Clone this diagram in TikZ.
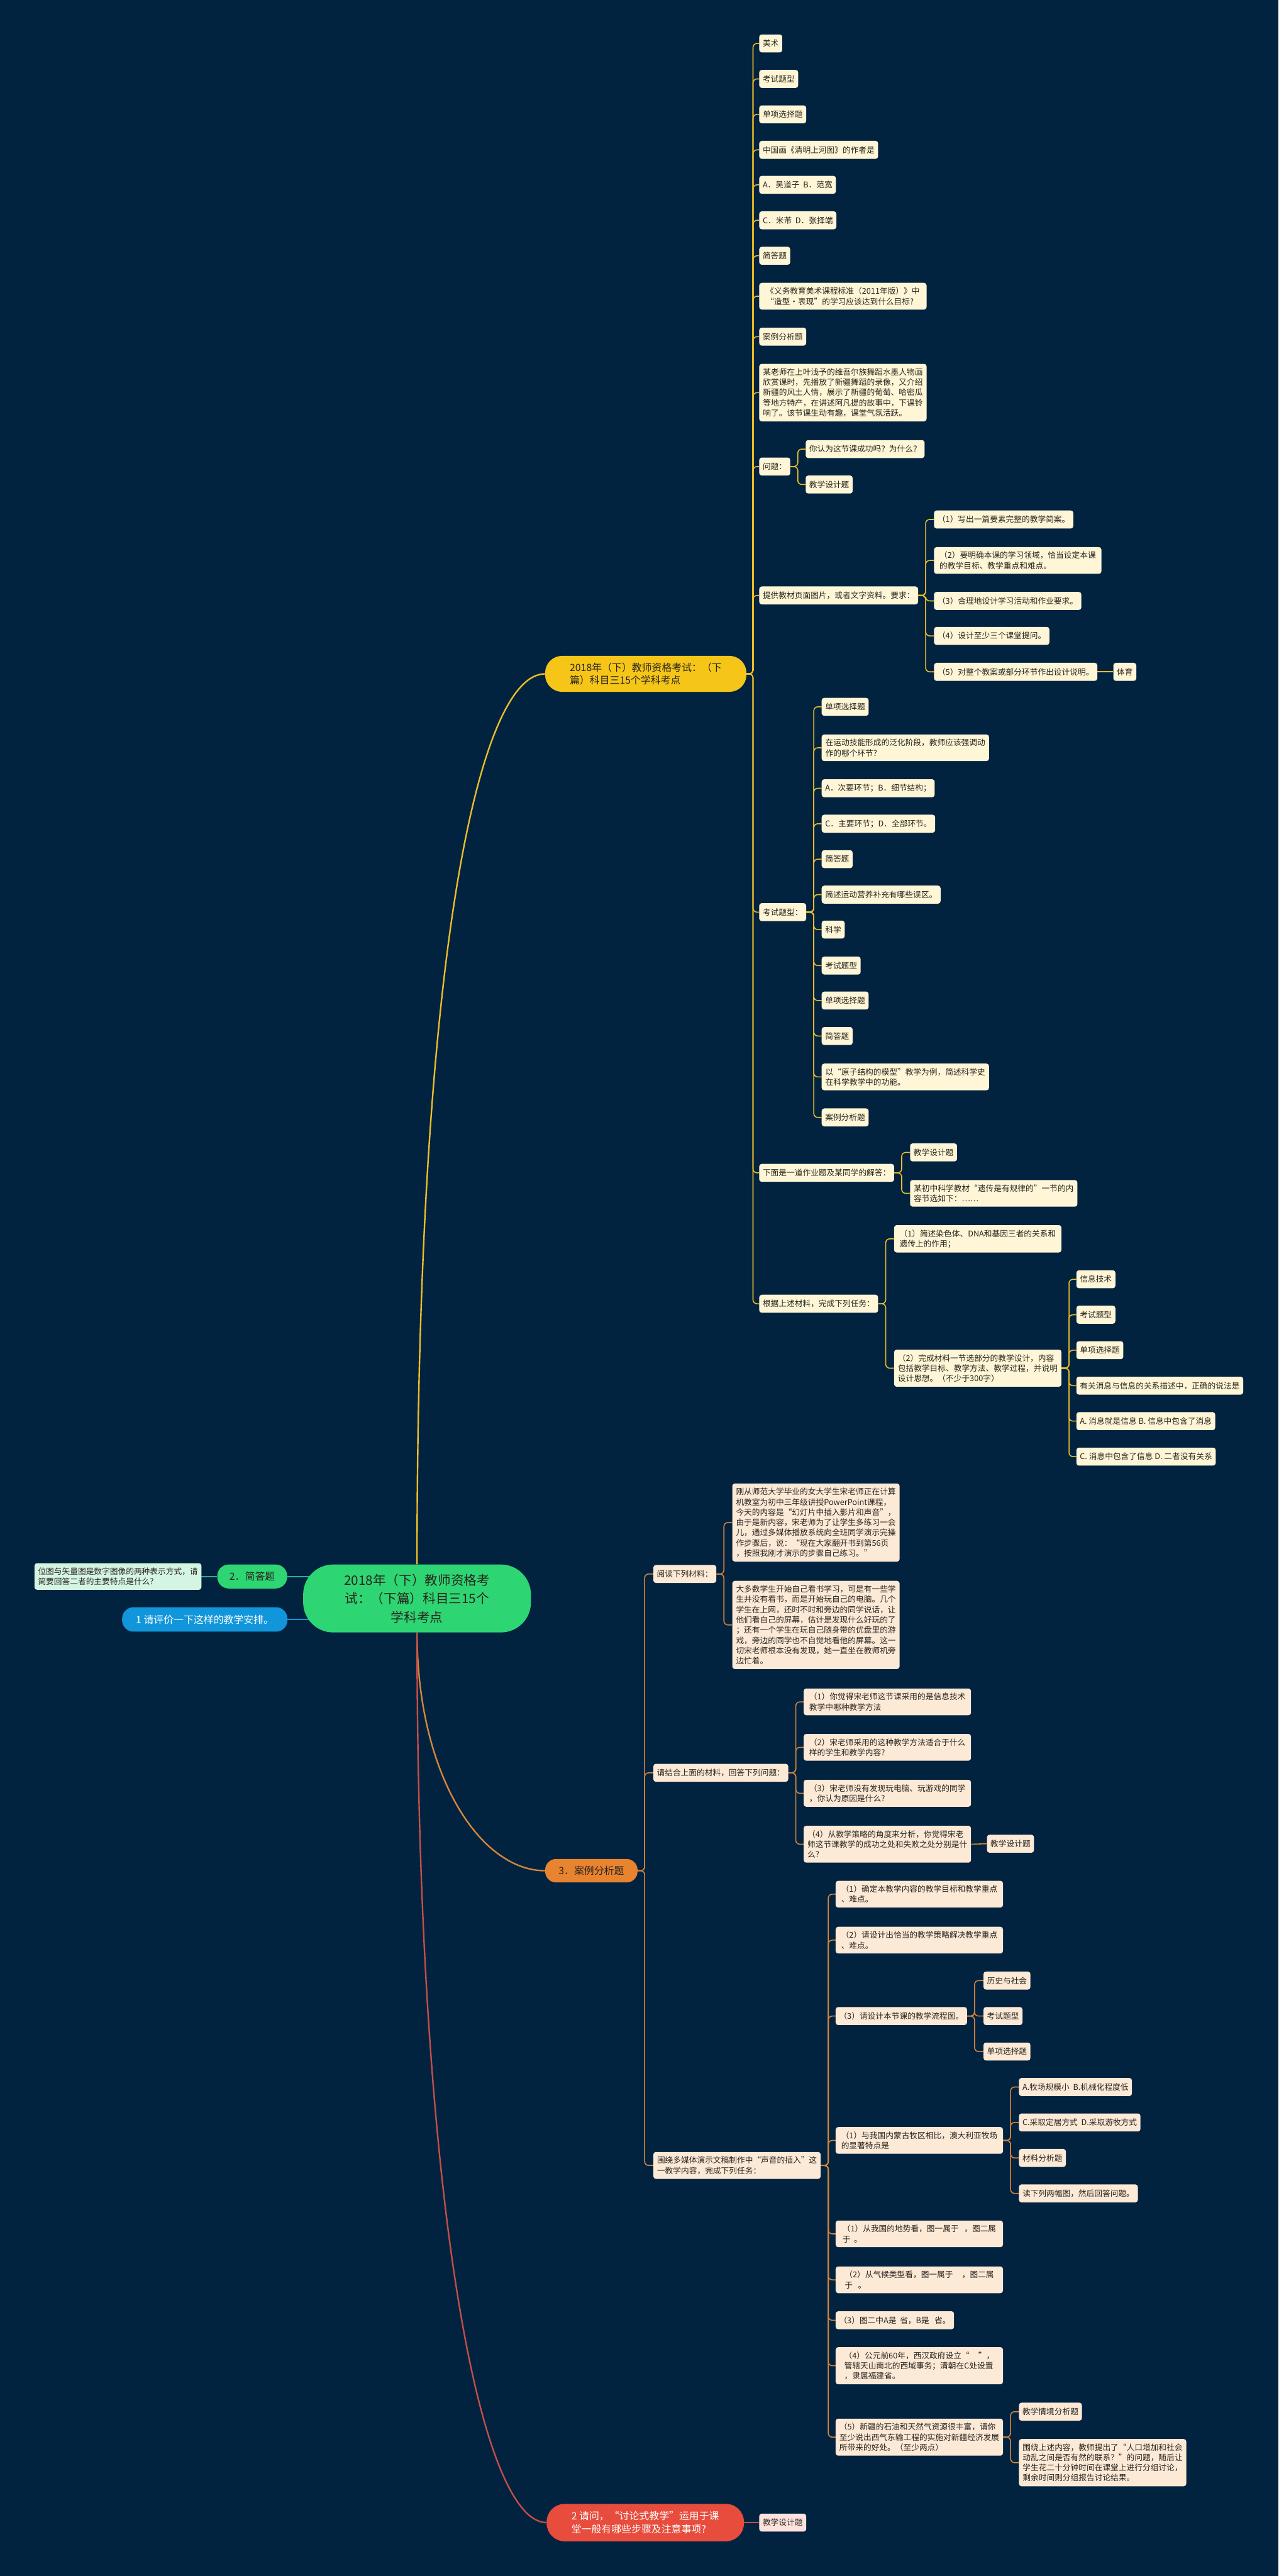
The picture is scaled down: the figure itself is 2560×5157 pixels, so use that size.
\documentclass[tikz,border=0pt]{standalone}
\usepackage{fontspec}
\setmainfont{Noto Sans CJK SC}
\usetikzlibrary{backgrounds}
\definecolor{navyBg}{RGB}{1,35,64}
\definecolor{rootG}{RGB}{46,213,115}
\definecolor{mintL}{RGB}{213,245,227}
\definecolor{tealC}{RGB}{40,178,140}
\definecolor{blueN}{RGB}{18,150,219}
\definecolor{yelB}{RGB}{245,197,24}
\definecolor{yelL}{RGB}{254,246,214}
\definecolor{yelC}{RGB}{236,190,40}
\definecolor{orgB}{RGB}{232,131,48}
\definecolor{orgL}{RGB}{252,233,214}
\definecolor{orgC}{RGB}{214,134,58}
\definecolor{redB}{RGB}{231,76,60}
\definecolor{redL}{RGB}{253,226,222}
\definecolor{redC}{RGB}{196,78,72}
\definecolor{inkD}{RGB}{40,36,30}

\begin{document}
\begin{tikzpicture}[
  x=1pt,y=-1pt,
  leaf/.style={rounded corners=5pt,inner xsep=7pt,inner ysep=9pt,minimum height=36pt,anchor=west,align=left,text=inkD,font=\fontsize{16}{20.5}\selectfont},
  ly/.style={leaf,fill=yelL},
  lo/.style={leaf,fill=orgL},
  wide/.style={minimum width=335pt},
  pillbox/.style={inner sep=6pt,align=left,text=inkD,font=\fontsize{20}{26}\selectfont},
  yl/.style={draw=yelC,line width=2pt,rounded corners=8pt},
  ol/.style={draw=orgC,line width=2pt,rounded corners=8pt},
  trunk/.style={line width=3pt}
]
  \useasboundingbox (0,0) rectangle (2560,5157);

  % centre and left side
  \node[pillbox,align=center,fill=rootG,minimum width=456pt,minimum height=136pt,rounded corners=60pt,font=\fontsize{26}{37}\selectfont] (r) at (835,3200)
    {2018年（下）教师资格考\\试：（下篇）科目三15个\\学科考点};
  \node[pillbox,fill=rootG,minimum width=140pt,minimum height=48pt,rounded corners=23pt] (jd) at (505,3156) {2．简答题};
  \node[leaf,fill=mintL] (jdq) at (69,3156) {位图与矢量图是数字图像的两种表示方式，请\\简要回答二者的主要特点是什么?};
  \node[pillbox,fill=blueN,text=white,minimum width=331pt,minimum height=49pt,rounded corners=23pt] (pj) at (410,3242) {1 请评价一下这样的教学安排。};

  % branch 1
  \node[pillbox,fill=yelB,minimum width=403pt,minimum height=72pt,rounded corners=34pt] (b1) at (1293,1349)
    {2018年（下）教师资格考试：（下\\篇）科目三15个学科考点};
  \node[ly] (a1) at (1520,87) {美术};
  \node[ly] (a2) at (1520,158) {考试题型};
  \node[ly] (a3) at (1520,229) {单项选择题};
  \node[ly] (a4) at (1520,300) {中国画《清明上河图》的作者是};
  \node[ly] (a5) at (1520,370) {A．吴道子~~B．范宽};
  \node[ly] (a6) at (1520,441) {C．米芾~~D．张择端};
  \node[ly] (a7) at (1520,512) {简答题};
  \node[ly,wide] (a8) at (1520,593) {《义务教育美术课程标准（2011年版）》中\\“造型·表现”的学习应该达到什么目标?};
  \node[ly] (a9) at (1520,674) {案例分析题};
  \node[ly,wide] (a10) at (1520,786) {某老师在上叶浅予的维吾尔族舞蹈水墨人物画\\欣赏课时，先播放了新疆舞蹈的录像，又介绍\\新疆的风土人情，展示了新疆的葡萄、哈密瓜\\等地方特产，在讲述阿凡提的故事中，下课铃\\响了。该节课生动有趣，课堂气氛活跃。};
  \node[ly] (a11) at (1520,934) {问题：};
  \node[ly] (wt1) at (1613,899) {你认为这节课成功吗？为什么？};
  \node[ly] (wt2) at (1613,970) {教学设计题};
  \node[ly] (a12) at (1520,1192) {提供教材页面图片，或者文字资料。要求：};
  \node[ly] (tg1) at (1870,1040) {（1）写出一篇要素完整的教学简案。};
  \node[ly,wide] (tg2) at (1870,1122) {（2）要明确本课的学习领域，恰当设定本课\\的教学目标、教学重点和难点。};
  \node[ly] (tg3) at (1870,1203) {（3）合理地设计学习活动和作业要求。};
  \node[ly] (tg4) at (1870,1273) {（4）设计至少三个课堂提问。};
  \node[ly] (tg5) at (1870,1345) {（5）对整个教案或部分环节作出设计说明。};
  \node[ly] (ty) at (2229,1345) {体育};
  \node[ly] (a13) at (1520,1826) {考试题型：};
  \node[ly] (kx1) at (1645,1415) {单项选择题};
  \node[ly,wide] (kx2) at (1645,1497) {在运动技能形成的泛化阶段，教师应该强调动\\作的哪个环节?};
  \node[ly] (kx3) at (1645,1578) {A．次要环节；B．细节结构；};
  \node[ly] (kx4) at (1645,1649) {C．主要环节；D．全部环节。};
  \node[ly] (kx5) at (1645,1720) {简答题};
  \node[ly] (kx6) at (1645,1791) {简述运动营养补充有哪些误区。};
  \node[ly] (kx7) at (1645,1861) {科学};
  \node[ly] (kx8) at (1645,1933) {考试题型};
  \node[ly] (kx9) at (1645,2003) {单项选择题};
  \node[ly] (kx10) at (1645,2074) {简答题};
  \node[ly,wide] (kx11) at (1645,2156) {以“原子结构的模型”教学为例，简述科学史\\在科学教学中的功能。};
  \node[ly] (kx12) at (1645,2237) {案例分析题};
  \node[ly] (a14) at (1520,2348) {下面是一道作业题及某同学的解答：};
  \node[ly] (xm1) at (1822,2307) {教学设计题};
  \node[ly,wide] (xm2) at (1822,2389) {某初中科学教材“遗传是有规律的”一节的内\\容节选如下：……};
  \node[ly] (a15) at (1520,2610) {根据上述材料，完成下列任务：};
  \node[ly,wide] (gj1) at (1790,2480) {（1）简述染色体、DNA和基因三者的关系和\\遗传上的作用；};
  \node[ly,wide] (gj2) at (1790,2739) {（2）完成材料一节选部分的教学设计，内容\\包括教学目标、教学方法、教学过程，并说明\\设计思想。（不少于300字）};
  \node[ly] (xx1) at (2155,2561) {信息技术};
  \node[ly] (xx2) at (2155,2632) {考试题型};
  \node[ly] (xx3) at (2155,2703) {单项选择题};
  \node[ly] (xx4) at (2155,2774) {有关消息与信息的关系描述中，正确的说法是};
  \node[ly] (xx5) at (2155,2845) {A. 消息就是信息 B. 信息中包含了消息};
  \node[ly] (xx6) at (2155,2916) {C. 消息中包含了信息 D. 二者没有关系};

  % branch 3
  \node[pillbox,fill=orgB,minimum width=185pt,minimum height=47pt,rounded corners=22pt] (b3) at (1184,3745) {3．案例分析题};
  \node[lo] (o1) at (1308,3151) {阅读下列材料：};
  \node[lo,wide] (yd1) at (1466,3048) {刚从师范大学毕业的女大学生宋老师正在计算\\机教室为初中三年级讲授PowerPoint课程，\\今天的内容是“幻灯片中插入影片和声音”，\\由于是新内容，宋老师为了让学生多练习一会\\儿，通过多媒体播放系统向全班同学演示完操\\作步骤后，说：“现在大家翻开书到第56页\\，按照我刚才演示的步骤自己练习。”};
  \node[lo,wide] (yd2) at (1466,3253) {大多数学生开始自己看书学习，可是有一些学\\生并没有看书，而是开始玩自己的电脑。几个\\学生在上网，还时不时和旁边的同学说话，让\\他们看自己的屏幕，估计是发现什么好玩的了\\；还有一个学生在玩自己随身带的优盘里的游\\戏，旁边的同学也不自觉地看他的屏幕。这一\\切宋老师根本没有发现，她一直坐在教师机旁\\边忙着。};
  \node[lo] (o2) at (1308,3549) {请结合上面的材料，回答下列问题：};
  \node[lo,wide] (qj1) at (1609,3407) {（1）你觉得宋老师这节课采用的是信息技术\\教学中哪种教学方法};
  \node[lo,wide] (qj2) at (1609,3498) {（2）宋老师采用的这种教学方法适合于什么\\样的学生和教学内容?};
  \node[lo,wide] (qj3) at (1609,3590) {（3）宋老师没有发现玩电脑、玩游戏的同学\\，你认为原因是什么?};
  \node[lo,wide] (qj4) at (1609,3692) {（4）从教学策略的角度来分析，你觉得宋老\\师这节课教学的成功之处和失败之处分别是什\\么?};
  \node[lo] (qjt) at (1976,3691) {教学设计题};
  \node[lo,wide] (o3) at (1308,4335) {围绕多媒体演示文稿制作中“声音的插入”这\\一教学内容，完成下列任务：};
  \node[lo,wide] (wr1) at (1673,3792) {（1）确定本教学内容的教学目标和教学重点\\、难点。};
  \node[lo,wide] (wr2) at (1673,3884) {（2）请设计出恰当的教学策略解决教学重点\\、难点。};
  \node[lo] (wr3) at (1673,4036) {（3）请设计本节课的教学流程图。};
  \node[lo] (lc1) at (1969,3965) {历史与社会};
  \node[lo] (lc2) at (1969,4036) {考试题型};
  \node[lo] (lc3) at (1969,4107) {单项选择题};
  \node[lo,wide] (wr4) at (1673,4285) {（1）与我国内蒙古牧区相比，澳大利亚牧场\\的显著特点是};
  \node[lo] (mc1) at (2040,4178) {A.牧场规模小~~B.机械化程度低};
  \node[lo] (mc2) at (2040,4249) {C.采取定居方式~~D.采取游牧方式};
  \node[lo] (mc3) at (2040,4320) {材料分析题};
  \node[lo] (mc4) at (2040,4391) {读下列两幅图，然后回答问题。};
  \node[lo,wide] (wr5) at (1673,4472) {（1）从我国的地势看，图一属于~~~，图二属\\于~~。};
  \node[lo,wide] (wr6) at (1673,4564) {（2）从气候类型看，图一属于~~~~~，图二属\\于~~~。};
  \node[lo] (wr7) at (1673,4645) {（3）图二中A是~~省，B是~~~省。};
  \node[lo,wide] (wr8) at (1673,4736) {（4）公元前60年，西汉政府设立“~~~~~”，\\管辖天山南北的西域事务；清朝在C处设置\\，隶属福建省。};
  \node[lo,wide] (wr9) at (1673,4879) {（5）新疆的石油和天然气资源很丰富，请你\\至少说出西气东输工程的实施对新疆经济发展\\所带来的好处。（至少两点）};
  \node[lo] (xj1) at (2040,4828) {教学情境分析题};
  \node[lo,wide] (xj2) at (2040,4930) {围绕上述内容，教师提出了“人口增加和社会\\动乱之间是否有然的联系？”的问题，随后让\\学生花二十分钟时间在课堂上进行分组讨论，\\剩余时间则分组报告讨论结果。};

  % branch 4
  \node[pillbox,fill=redB,text=white,minimum width=395pt,minimum height=75pt,rounded corners=36pt] (b4) at (1292,5050)
    {2 请问，“讨论式教学”运用于课\\堂一般有哪些步骤及注意事项?};
  \node[leaf,fill=redL] (tj) at (1520,5050) {教学设计题};

  % connectors
  \begin{scope}[on background layer]
    \fill[navyBg] (0,0) rectangle (2560,5157);
    \draw[yelC,trunk] (r.north) .. controls (835,1900) and (960,1349) .. (b1.west);
    \draw[orgC,trunk] (r.south) .. controls (835,3550) and (960,3745) .. (b3.west);
    \draw[redC,trunk] (r.south) .. controls (835,4400) and (960,5050) .. (b4.west);
    \draw[tealC,trunk] (jd.east) -- (jd.east -| r.center);
    \draw[tealC,line width=2pt] (jdq.east) -- (jd.west);
    \draw[blueN,trunk] (pj.east) -- (pj.east -| r.center);
    \draw[redC,line width=2pt] (b4.east) -- (tj.west);

    \foreach \k in {1,...,15} \draw[yl] (b1.east) -- ++(13,0) |- (a\k.west);
    \foreach \k in {1,2} \draw[yl] (a11.east) -- ++(15,0) |- (wt\k.west);
    \foreach \k in {1,...,5} \draw[yl] (a12.east) -- ++(15,0) |- (tg\k.west);
    \draw[yl] (tg5.east) -- (ty.west);
    \foreach \k in {1,...,12} \draw[yl] (a13.east) -- ++(15,0) |- (kx\k.west);
    \foreach \k in {1,2} \draw[yl] (a14.east) -- ++(15,0) |- (xm\k.west);
    \foreach \k in {1,2} \draw[yl] (a15.east) -- ++(15,0) |- (gj\k.west);
    \foreach \k in {1,...,6} \draw[yl] (gj2.east) -- ++(15,0) |- (xx\k.west);

    \foreach \k in {1,2,3} \draw[ol] (b3.east) -- ++(14,0) |- (o\k.west);
    \foreach \k in {1,2} \draw[ol] (o1.east) -- ++(15,0) |- (yd\k.west);
    \foreach \k in {1,...,4} \draw[ol] (o2.east) -- ++(15,0) |- (qj\k.west);
    \draw[ol] (qj4.east) -- (qjt.west);
    \foreach \k in {1,...,9} \draw[ol] (o3.east) -- ++(15,0) |- (wr\k.west);
    \foreach \k in {1,2,3} \draw[ol] (wr3.east) -- ++(15,0) |- (lc\k.west);
    \foreach \k in {1,...,4} \draw[ol] (wr4.east) -- ++(15,0) |- (mc\k.west);
    \foreach \k in {1,2} \draw[ol] (wr9.east) -- ++(15,0) |- (xj\k.west);
  \end{scope}
\end{tikzpicture}
\end{document}
